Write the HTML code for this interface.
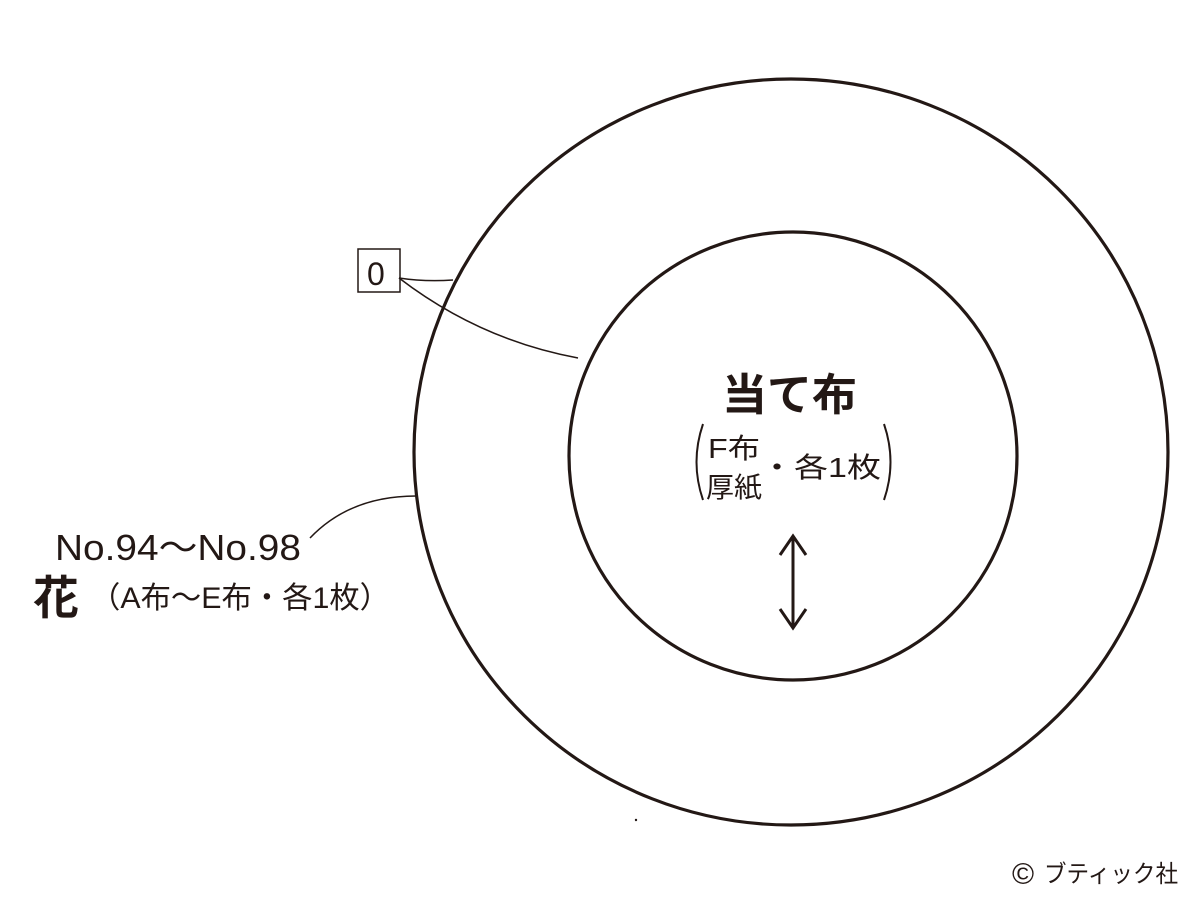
<!DOCTYPE html>
<html><head><meta charset="utf-8"><style>
html,body{margin:0;padding:0;background:#fff;}
svg{display:block;}
text{fill:#231815;font-family:"Liberation Sans","Noto Sans CJK JP",sans-serif;}
</style></head><body>
<svg width="1200" height="900" viewBox="0 0 1200 900" xmlns="http://www.w3.org/2000/svg">
<g fill="none" stroke="#231815">
<ellipse cx="791" cy="452" rx="377" ry="373" stroke-width="3.2"/>
<circle cx="793" cy="456" r="224" stroke-width="3.2"/>
<rect x="358" y="249" width="42" height="43" stroke-width="1.5"/>
<path d="M399 278 Q425 282 453 280" stroke-width="1.5"/>
<path d="M399 278 Q480 340 578 358" stroke-width="1.5"/>
<path d="M310 538 Q350 496 416 496" stroke-width="1.5"/>
<path d="M793 537 V628" stroke-width="3"/>
<path d="M780 555 L793 536 L806 555" stroke-width="3"/>
<path d="M780 609 L793 628 L806 609" stroke-width="3"/>
<path d="M703 424 Q690 462 703 500" stroke-width="2"/>
<path d="M884 424 Q897 462 884 500" stroke-width="2"/>
</g>
<circle cx="636" cy="820" r="1.2" fill="#231815"/>
<text x="367" y="285" font-size="32">0</text>
<text x="722" y="410" font-size="44" font-weight="bold" textLength="135" lengthAdjust="spacingAndGlyphs">当て布</text>
<text x="708" y="458" font-size="28" textLength="52" lengthAdjust="spacingAndGlyphs">F布</text>
<text x="706" y="497" font-size="28" textLength="56" lengthAdjust="spacingAndGlyphs">厚紙</text>
<text x="760" y="477" font-size="28" textLength="121" lengthAdjust="spacingAndGlyphs">・各1枚</text>
<text x="55" y="560" font-size="36" textLength="246" lengthAdjust="spacingAndGlyphs">No.94～No.98</text>
<text x="33" y="614" font-size="46" font-weight="bold">花</text>
<text x="90" y="608" font-size="30" textLength="300" lengthAdjust="spacingAndGlyphs">（A布～E布・各1枚）</text>
<text x="1012" y="884" font-size="30">©</text>
<text x="1044" y="882" font-size="24" textLength="134" lengthAdjust="spacingAndGlyphs">ブティック社</text>
</svg>
</body></html>
